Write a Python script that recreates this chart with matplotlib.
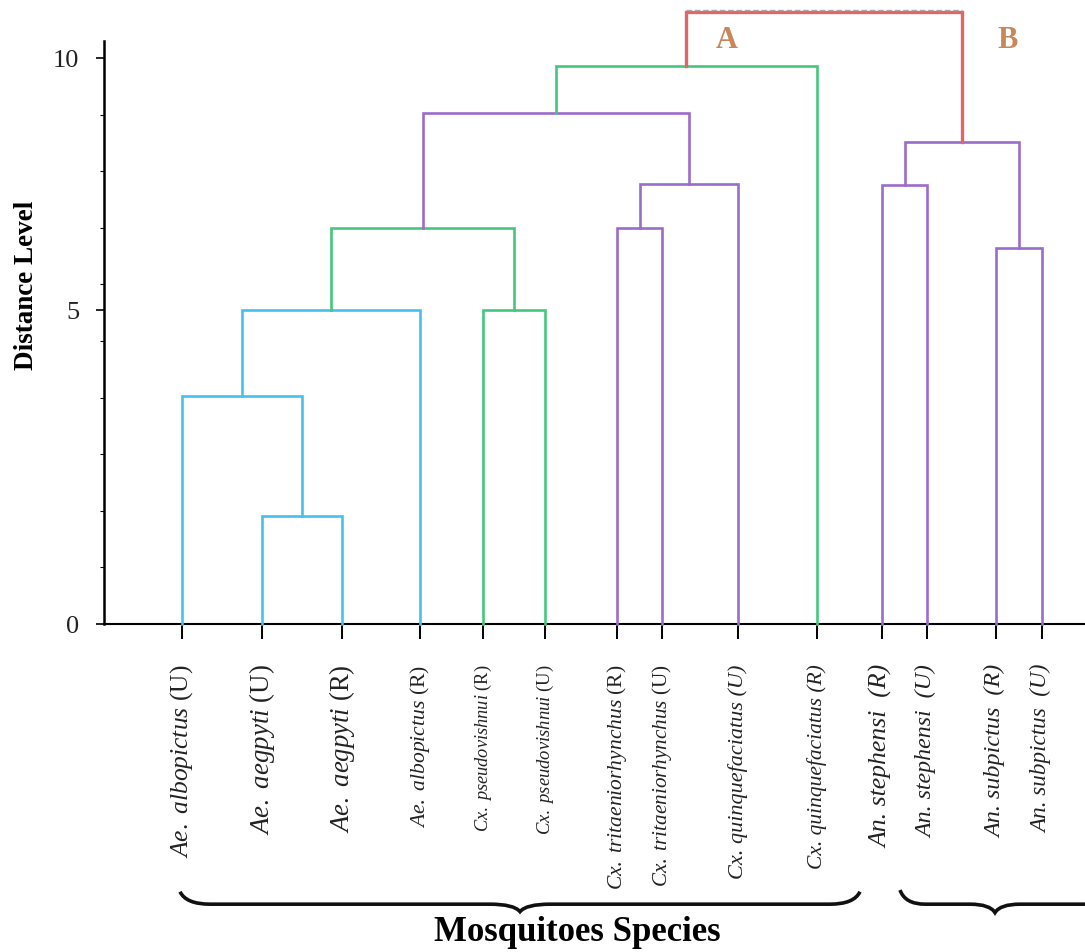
import matplotlib
matplotlib.use("Agg")
import matplotlib.pyplot as plt
from matplotlib.path import Path
from matplotlib.patches import PathPatch

plt.rcParams["font.family"] = ["Liberation Serif", "DejaVu Serif"]
plt.rcParams["mathtext.fontset"] = "custom"
plt.rcParams["mathtext.rm"] = "Liberation Serif"
plt.rcParams["mathtext.it"] = "Liberation Serif:italic"

# leaves, left to right
species = ["Ae. albopictus", "Ae. aegpyti", "Ae. aegpyti", "Ae. albopictus",
           "Cx. pseudovishnui", "Cx. pseudovishnui",
           "Cx. tritaeniorhynchus", "Cx. tritaeniorhynchus",
           "Cx. quinquefaciatus", "Cx. quinquefaciatus",
           "An. stephensi", "An. stephensi", "An. subpictus", "An. subpictus"]
habitat = ["U", "U", "R", "R", "R", "U", "R", "U", "U", "R", "R", "U", "R", "U"]
leaf_pos = [18.2, 26.2, 34.2, 42.0, 48.3, 54.5, 61.7, 66.2, 73.8, 81.7,
            88.2, 92.7, 99.6, 104.2]

# merges: (left node, right node, distance); new nodes are numbered from 14
merge_left = [1, 0, 15, 4, 16, 6, 19, 18, 21, 10, 12, 23, 22]
merge_right = [2, 14, 3, 5, 17, 7, 8, 20, 9, 11, 13, 24, 25]
merge_dist = [1.91, 4.03, 5.55, 5.55, 7.0, 7.0, 7.77, 9.03, 9.86,
              7.76, 6.64, 8.52, 10.81]
merge_group = ["ae", "ae", "ae", "cx", "cx", "tri", "tri", "tri", "cx",
               "an", "an", "an", "top"]

colors = {"ae": "#45c0f0", "cx": "#45c67e", "tri": "#9a6ccc",
          "an": "#9a6ccc", "top": "#e0666a"}

# label style: upright (U)/(R) or italic, and size
upright_suffix = [True] * 8 + [False] * 6
label_size = [18.4, 19.4, 19.3, 15.6, 13.2, 13.4, 15.5, 15.2, 16, 15.5,
              18.5, 17.2, 17.4, 16.7]

fig = plt.figure(figsize=(10.85, 9.53), dpi=100)
ax = fig.add_axes([104 / 1085, 1 - 625 / 953, 1 - 104 / 1085, (625 - 42) / 953])

node_x = list(leaf_pos)
node_h = [0.0] * len(leaf_pos)
for a, b, d, g in zip(merge_left, merge_right, merge_dist, merge_group):
    xa, xb = node_x[a], node_x[b]
    lw = 2.4 if g == "top" else 1.9
    ax.plot([xa, xa, xb, xb], [node_h[a], d, d, node_h[b]], color=colors[g],
            lw=lw, clip_on=False, solid_joinstyle="miter", zorder=3)
    node_x.append((xa + xb) / 2)
    node_h.append(d)

# grey dashed rule over the top link
top_l, top_r = node_x[merge_left[-1]], node_x[merge_right[-1]]
ax.plot([top_l, top_r], [merge_dist[-1] + 0.03] * 2, color="#a8a8a8", lw=1.0,
        ls=(0, (4, 2)), clip_on=False, zorder=4)

ax.text(72.7, 10.32, "A", color="#c8875a", fontsize=22, fontweight="bold",
        ha="center", va="center")
ax.text(100.8, 10.32, "B", color="#c8875a", fontsize=22, fontweight="bold",
        ha="center", va="center")

ax.set_xlim(10.4, 108.5)
ax.set_ylim(0, 10.3)
for s in ["top", "right"]:
    ax.spines[s].set_visible(False)
ax.spines["left"].set_linewidth(1.8)
ax.spines["bottom"].set_linewidth(1.5)

ax.set_yticks([0, 5.55, 10])
ax.set_yticklabels(["0", "5", "10"], fontsize=19, color="#222222")
ax.set_yticks(range(0, 11), minor=True)
ax.tick_params(axis="y", which="major", length=6, width=1.2, pad=12)
ax.tick_params(axis="y", which="minor", length=3, width=0.8)

ax.set_xticks(leaf_pos)
ax.set_xticklabels([])
ax.tick_params(axis="x", which="major", length=11, width=1.4)

trans = ax.get_xaxis_transform()
for x, name, hab, up, fs in zip(leaf_pos, species, habitat, upright_suffix, label_size):
    if up:
        lab = "$\\mathit{" + name.replace(" ", "\\ ") + "}$ (" + hab + ")"
        ax.text(x, -0.068, lab, rotation=90, ha="center", va="top",
                fontsize=fs, transform=trans, color="#222222")
    else:
        sep = "  " if name.startswith("An.") else " "
        ax.text(x, -0.068, name + sep + "(" + hab + ")", rotation=90, ha="center",
                va="top", fontsize=fs, fontstyle="italic", transform=trans,
                color="#222222")


def brace(x0, x1, xtip, y, h, r):
    verts = [(x0, y + h), (x0 + r * 0.2, y), (x0 + r, y),
             (xtip - r, y), (xtip - r * 0.2, y), (xtip, y - h * 0.6),
             (xtip + r * 0.2, y), (xtip + r, y),
             (x1 - r, y), (x1 - r * 0.2, y), (x1, y + h)]
    codes = [Path.MOVETO, Path.CURVE3, Path.CURVE3,
             Path.LINETO, Path.CURVE3, Path.CURVE3,
             Path.CURVE3, Path.CURVE3,
             Path.LINETO, Path.CURVE3, Path.CURVE3]
    ax.add_patch(PathPatch(Path(verts, codes), fill=False, lw=2.6,
                           color="#111111", clip_on=False,
                           transform=ax.transData))


brace(18.0, 86.0, 52.0, -4.95, 0.22, 3.0)
brace(90.0, 111.0, 99.5, -4.95, 0.25, 2.5)

fig.text(27 / 1085, 1 - 285 / 953, "Distance Level", rotation=90, fontsize=19.5,
         fontweight="bold", ha="center", va="center")
fig.text(577 / 1085, 1 - 933 / 953, "Mosquitoes Species", fontsize=25,
         fontweight="bold", ha="center", va="center")

fig.savefig("out.png", dpi=100)
